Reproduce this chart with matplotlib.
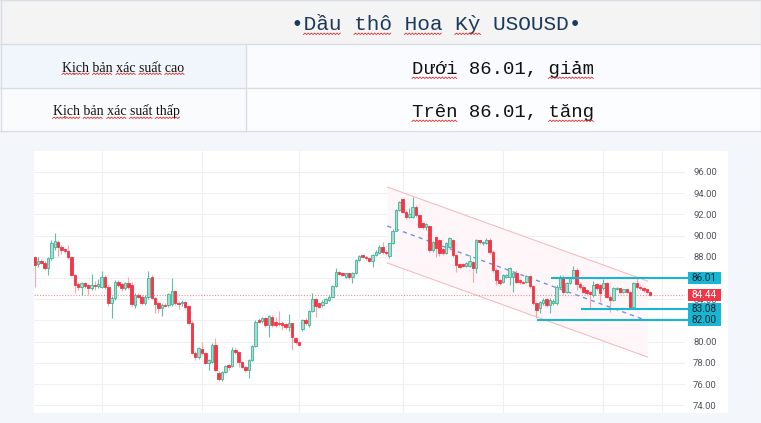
# candlestick chart of US crude (USOUSD) with a small scenario table on top
import numpy as np
import matplotlib
matplotlib.use("Agg")
import matplotlib.pyplot as plt
import matplotlib.transforms as mtransforms
from matplotlib.lines import Line2D
from matplotlib.patches import Rectangle

# canvas size in pixels (saved at dpi 100)
W, H = 761, 423

# table text
title = "•Dầu thô Hoa Kỳ USOUSD•"
title_marked = ["Dầu", "thô", "Hoa", "Kỳ"]
row_labels = ["Kịch bản xác suất cao", "Kịch bản xác suất thấp"]
row_values = ["Dưới 86.01, giảm", "Trên 86.01, tăng"]
row_marked = [["Dưới", "giảm"], ["Trên", "tăng"]]

# daily candles
opens = [88.01, 87.32, 87.64, 87.45, 86.91, 87.86, 88.9, 89.43, 88.96, 88.7,
         88.58, 87.95, 86.28, 85.4, 85.18, 85.5, 85.34, 85.1, 85.3, 85.25,
         85.18, 86.05, 85.18, 83.61, 84.08, 85.65, 85.4, 85.1, 85.5, 85.3,
         83.45, 84.4, 84.24, 83.67, 84.2, 86.05, 84.08, 83.61, 83.14, 83.5,
         83.45, 83.55, 84.78, 83.67, 83.6, 83.7, 83.4, 81.78, 78.95, 78.58,
         79.3, 78.89, 78.0, 78.1, 79.68, 77.06, 76.5, 77.1, 77.75, 77.7,
         79.25, 78.98, 78.1, 77.63, 77.32, 78.27, 79.62, 82.04, 81.9, 82.2,
         81.57,
         82.35, 81.88, 81.8, 81.72, 81.66, 81.41, 81.72, 80.3, 80.0,
         81.16, 82.04, 81.57, 82.92, 83.98, 83.61, 83.45, 83.67, 83.92, 84.24,
         85.25, 86.6, 86.44, 86.13, 86.44, 86.07, 86.5, 87.7, 88.17, 88.01,
         87.86, 87.64, 88.17, 88.4, 88.96, 88.49, 88.1, 89.27, 90.47, 92.42,
         93.42, 92.26, 91.79, 91.79, 92.73, 91.94, 91.16, 90.84, 90.9, 88.64,
         89.9, 89.58, 88.7, 88.4, 88.96, 89.58, 88.17, 87.3, 87.3, 87.13,
         87.13, 87.54, 86.91, 89.58, 89.27, 89.35, 89.58, 88.49, 86.76, 85.81,
         85.65, 86.13, 86.13, 86.13, 86.44, 85.81, 85.65, 85.65, 86.2, 85.25,
         83.61, 83.14, 83.61, 83.98, 83.45, 83.61, 83.61, 85.18, 86.13, 84.71,
         85.5, 85.97, 86.76, 85.44, 85.18, 84.87, 84.71, 84.4, 85.4, 85.34,
         85.03, 85.55, 84.24, 83.92, 84.95, 85.03, 84.71, 84.93, 84.71, 83.3,
         85.55, 85.18, 85.1, 84.93, 84.71]
highs = [88.1, 87.95, 87.8, 87.6, 87.95, 89.58, 90.21, 89.6, 89.1, 88.8,
         89.11, 88.0, 86.4, 85.6, 85.6, 85.6, 85.45, 86.35, 85.7, 85.9,
         86.65, 86.3, 85.3, 84.3, 85.8, 85.8, 85.5, 85.6, 86.13, 85.6,
         84.6, 84.6, 84.4, 84.4, 86.65, 86.3, 84.2, 83.7, 83.6, 83.6,
         84.6, 86.0, 84.9, 83.8, 83.9, 83.8, 83.5, 81.9, 79.1, 79.5,
         80.0, 79.0, 78.4, 79.84, 80.3, 77.2, 77.2, 77.8, 77.9, 79.52,
         79.4, 79.1, 78.2, 77.7, 78.4, 79.7, 82.0, 82.2, 82.35, 82.3,
         82.5,
         82.5, 82.3, 82.9, 81.9, 81.8, 82.6, 81.8, 80.4, 80.1,
         82.1, 82.2, 83.0, 84.55, 84.1, 83.7, 83.9, 84.1, 84.4, 85.3,
         86.97, 86.7, 86.5, 86.5, 86.5, 86.6, 87.8, 88.2, 88.3, 88.1,
         87.9, 88.3, 88.6, 89.1, 89.4, 88.6, 89.3, 90.6, 92.5, 93.3,
         93.55, 92.4, 92.6, 93.61, 92.9, 92.0, 91.3, 91.2, 91.0, 89.5,
         90.0, 89.7, 88.8, 89.4, 89.9, 89.7, 88.3, 87.4, 87.4, 87.5,
         88.17, 87.6, 89.7, 89.6, 89.5, 89.75, 89.8, 88.6, 86.9, 85.9,
         86.4, 86.4, 87.07, 86.6, 86.8, 85.9, 85.7, 86.3, 86.3, 85.3,
         83.7, 83.8, 84.1, 84.1, 84.1, 84.0, 85.3, 86.3, 86.3, 85.6,
         86.1, 87.1, 86.9, 85.6, 85.3, 85.0, 84.8, 85.7, 85.5, 85.45,
         85.9, 85.65, 84.4, 85.2, 85.2, 85.1, 85.0, 85.0, 84.8, 85.65,
         86.01, 85.3, 85.2, 85.0, 84.8]
lows = [85.18, 87.0, 87.3, 86.8, 86.28, 87.7, 88.6, 88.1, 88.3, 88.4,
        87.8, 86.2, 84.55, 84.9, 84.4, 85.1, 84.4, 84.9, 84.9, 85.1,
        85.1, 85.0, 83.4, 82.2, 83.9, 85.2, 84.8, 84.9, 85.0, 83.4,
        83.14, 84.1, 83.5, 83.5, 84.0, 84.0, 82.67, 82.67, 82.45, 83.3,
        83.3, 83.4, 83.5, 83.1, 83.4, 83.1, 81.7, 78.8, 78.3, 78.4,
        78.7, 77.9, 77.3, 78.0, 77.2, 76.3, 76.3, 77.0, 77.3, 77.6,
        78.8, 77.6, 77.5, 77.1, 76.6, 78.2, 79.5, 81.8, 81.8, 81.4,
        80.47,
        81.4, 81.4, 81.5, 81.1, 81.2, 81.0, 79.21, 79.8, 79.6,
        81.0, 81.6, 81.4, 82.8, 82.35, 83.2, 83.3, 83.6, 83.8, 84.2,
        85.2, 86.3, 86.2, 86.0, 85.9, 85.55, 86.4, 87.6, 87.9, 87.7,
        87.5, 87.07, 88.1, 88.3, 88.3, 88.2, 87.9, 89.2, 90.4, 92.3,
        92.1, 91.6, 91.7, 91.7, 91.8, 90.7, 90.6, 90.5, 88.5, 88.5,
        88.0, 88.1, 88.2, 88.3, 88.8, 88.0, 86.6, 86.9, 87.0, 87.0,
        87.0, 85.65, 86.44, 89.2, 89.1, 89.2, 88.3, 86.6, 85.34, 85.3,
        85.5, 86.0, 85.3, 84.71, 85.5, 85.4, 85.4, 85.5, 85.1, 83.5,
        82.2, 82.67, 83.5, 83.3, 82.67, 83.5, 83.5, 85.0, 84.5, 84.6,
        85.4, 85.9, 84.9, 85.0, 84.55, 84.4, 83.14, 84.2, 84.9, 83.7,
        84.9, 84.1, 82.83, 83.8, 84.9, 84.6, 84.6, 84.6, 83.2, 83.1,
        85.0, 84.9, 84.7, 84.55, 84.35]
closes = [87.23, 87.64, 87.45, 86.91, 87.86, 89.27, 89.5, 88.96, 88.64, 88.55,
          87.95, 86.28, 85.34, 85.18, 85.5, 85.28, 85.03, 85.3, 85.25, 85.45,
          86.13, 85.18, 83.61, 84.08, 85.65, 85.34, 85.03, 85.5, 85.18, 83.55,
          84.4, 84.24, 83.67, 84.24, 85.97, 84.08, 83.55, 83.14, 83.5, 83.4,
          84.45, 84.78, 83.67, 83.55, 83.77, 83.3, 81.78, 78.89, 78.58, 79.37,
          78.89, 78.0, 78.27, 79.68, 77.32, 76.44, 77.1, 77.7, 77.65, 79.21,
          78.98, 78.1, 77.63, 77.32, 78.27, 79.62, 81.88, 81.88, 82.2, 81.57,
          82.4,
          81.57, 81.57, 81.65, 81.57, 81.41, 81.72, 80.47, 80.0, 79.68,
          82.04, 81.8, 82.92, 83.98, 83.36, 83.3, 83.77, 83.98, 84.24, 85.25,
          86.6, 86.38, 86.28, 86.44, 86.07, 86.5, 87.7, 88.07, 88.01, 87.86,
          87.64, 88.17, 88.49, 88.96, 88.49, 88.33, 89.27, 90.47, 92.42, 93.2,
          92.26, 91.79, 92.04, 92.67, 91.94, 90.84, 90.84, 91.1, 88.64, 89.43,
          88.8, 88.33, 88.4, 89.27, 89.74, 88.17, 87.23, 87.07, 87.13, 87.38,
          87.64, 86.91, 89.58, 89.43, 89.43, 89.58, 88.49, 86.76, 85.81, 85.5,
          86.28, 86.28, 86.91, 86.44, 85.65, 85.6, 85.55, 86.2, 85.25, 83.61,
          82.98, 83.7, 83.92, 83.45, 83.92, 83.83, 85.18, 86.13, 84.71, 85.5,
          85.97, 86.76, 85.44, 85.18, 84.71, 84.55, 84.5, 85.34, 85.03, 84.55,
          85.55, 84.24, 83.92, 85.03, 85.1, 84.71, 84.93, 84.71, 83.3, 85.55,
          85.18, 85.03, 84.87, 84.71, 84.44]

# horizontal levels and the candle where each one starts
levels = [86.01, 83.08, 82.00]
level_from = [154.3, 163.3, 150.3]

# descending channel drawn on the chart (candle index, price)
channel_x = [105.4, 183.2]
channel_top = [94.58, 85.72]
channel_bottom = [87.42, 78.55]
mid_x = [105.4, 182.5]
mid_price = [90.91, 82.04]

# 86.00 and 82.00 sit fully under the level tags, so they get no label
price_ticks = [74, 76, 78, 80, 82, 84, 86, 88, 90, 92, 94, 96]
hidden_ticks = [82, 86]
grid_days = [20, 50, 79, 110, 140, 170, 187.6]

GREEN_FACE = "#a6ddd0"
GREEN_EDGE = "#3fb597"
RED = "#f23645"
RED_WICK = "#f7a7ae"
CYAN = "#17b6d2"
BORDER = "#dadee4"


def fx(x):
    return x / W


def fy(y):
    return 1 - y / H


def box(x0, y0, x1, y1, color):
    fig.add_artist(Rectangle((fx(x0), fy(y1)), (x1 - x0) / W, (y1 - y0) / H,
                             transform=fig.transFigure, fc=color, ec="none", zorder=-5))


def rule(x0, y0, x1, y1):
    fig.add_artist(Line2D([fx(x0), fx(x1)], [fy(y0), fy(y1)], transform=fig.transFigure,
                          color=BORDER, lw=1, zorder=-4))


def squiggle(t, words):
    # red spell-check wave under some words
    renderer = fig.canvas.get_renderer()
    bb = t.get_window_extent(renderer)
    s = t.get_text()
    prop = t.get_fontproperties()

    def width(sub):
        return renderer.get_text_width_height_descent(sub, prop, ismath=False)[0]

    for w in words:
        k = s.find(w)
        x1 = bb.x0 + width(s[:k + len(w)])
        x0 = x1 - width(w)
        xs = np.arange(x0, x1 + 0.5, 1.6)
        ys = bb.y0 - 0.5 + 1.4 * (np.arange(len(xs)) % 2)
        fig.add_artist(Line2D(xs, ys, transform=mtransforms.IdentityTransform(),
                              color="#e22a2a", lw=0.6, zorder=6))


fig = plt.figure(figsize=(W / 100, H / 100), dpi=100, facecolor="#f3f6fa")

# table backgrounds and borders
box(0, 0, W, 44, "#f4f4f4")
box(0, 44, 246, 88, "#f1f6fd")
box(246, 44, W, 88, "#f9fbfe")
box(0, 88, 246, 131, "#fafbfd")
box(246, 88, W, 131, "#fcfdfe")
box(34, 151, 728, 413, "white")
for y in [0.5, 44, 88, 131]:
    rule(0, y, W, y)
rule(246, 44, 246, 131)
rule(0.5, 0, 0.5, 131)
rule(W - 0.5, 0, W - 0.5, 131)

mono = ["Liberation Mono", "DejaVu Sans Mono"]
serif = ["Liberation Serif", "DejaVu Serif"]
t = fig.text(fx(436), fy(30), title, ha="center", va="baseline", fontsize=15.2,
             family=mono, color="#1d3a5c")
texts = [(t, title_marked)]
label_x = [123, 116]
label_base = [71, 115]
value_base = [74, 117]
for i in range(2):
    tl = fig.text(fx(label_x[i]), fy(label_base[i]), row_labels[i], ha="center",
                  va="baseline", fontsize=10, family=serif, color="#111111")
    tv = fig.text(fx(503), fy(value_base[i]), row_values[i], ha="center",
                  va="baseline", fontsize=13.7, family=mono, color="#111111")
    texts.append((tl, row_labels[i].split()))
    texts.append((tv, row_marked[i]))
for tt, words in texts:
    squiggle(tt, words)

# price chart
ax = fig.add_axes([fx(34), fy(413), 651 / W, 262 / H], facecolor="white")
n = len(closes)
x = np.arange(n)
o = np.array(opens)
c = np.array(closes)
up = c >= o

ax.fill_between(channel_x, channel_top, channel_bottom, color="#fef6f8", lw=0, zorder=1)
ax.plot(channel_x, channel_top, color="#f7bcc2", lw=0.8, zorder=2)
ax.plot(channel_x, channel_bottom, color="#f7bcc2", lw=0.8, zorder=2)
ax.plot(mid_x, mid_price, color="#6f92f2", lw=1, dashes=(3, 3), zorder=2)

ax.axhline(closes[-1], color="#f38d97", lw=0.8, ls=(0, (1, 1.5)), zorder=2)

wick_colors = np.where(up, "#5cc0a8", RED_WICK)
ax.vlines(x, lows, highs, colors=wick_colors, lw=0.8, zorder=3)
body = np.maximum(np.abs(c - o), 0.06)
ax.bar(x, body, bottom=np.minimum(o, c), width=0.74,
       color=np.where(up, GREEN_FACE, RED), edgecolor=np.where(up, GREEN_EDGE, RED),
       linewidth=0.6, zorder=4)

xmax = 194.4
for v, start in zip(levels, level_from):
    ax.plot([start, xmax + 1], [v, v], color=CYAN, lw=1.5, zorder=5, clip_on=False,
            solid_capstyle="butt")

ax.set_xlim(-0.2, xmax)
ax.set_ylim(73.27, 97.98)
ax.set_xticks(grid_days)
ax.set_yticks(price_ticks)
ax.set_yticklabels(["" if p in hidden_ticks else f"{p:.2f}" for p in price_ticks],
                   family="Roboto")
ax.yaxis.tick_right()
ax.tick_params(axis="y", length=0, pad=5.8, labelsize=6.8, labelcolor="#50555d")
ax.tick_params(axis="x", length=0, labelbottom=False)
ax.grid(True, color="#eef0f3", lw=0.8)
ax.set_axisbelow(True)
for sp in ax.spines.values():
    sp.set_visible(False)

# price tags on the right axis
tag_left = (688 - 34) / 651
tag_w = 33 / 651
tags = [(v, CYAN, "#17222e") for v in levels] + [(closes[-1], RED, "white")]
for v, fc, tc in tags:
    ax.add_patch(Rectangle((tag_left, v - 0.57), tag_w, 1.14, transform=ax.get_yaxis_transform(),
                           fc=fc, ec="none", clip_on=False, zorder=8))
    ax.text(tag_left + tag_w / 2, v, f"{v:.2f}", transform=ax.get_yaxis_transform(),
            ha="center", va="center", fontsize=7.2, family="Roboto", color=tc,
            clip_on=False, zorder=9)

fig.savefig("out.png", dpi=100, facecolor=fig.get_facecolor())
